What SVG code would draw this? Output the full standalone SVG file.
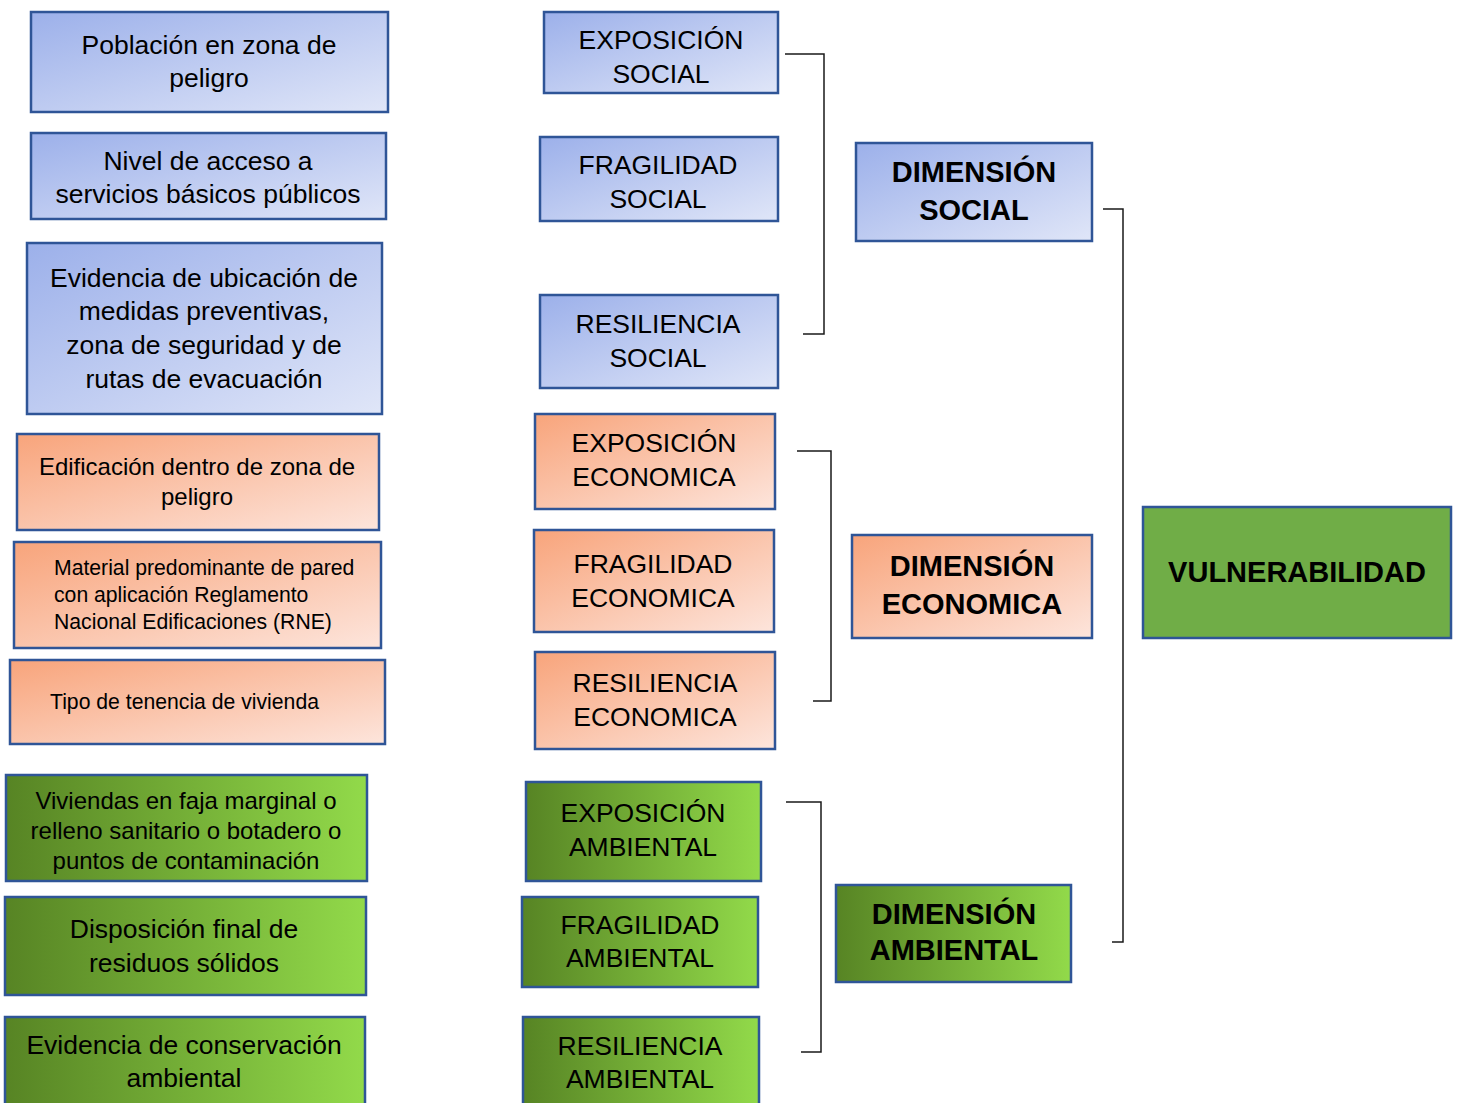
<svg xmlns="http://www.w3.org/2000/svg" width="1459" height="1103" viewBox="0 0 1459 1103">
<defs>
<linearGradient id="gBlue" x1="0" y1="0" x2="1" y2="1">
<stop offset="0" stop-color="#9cb0ea"/>
<stop offset="1" stop-color="#e0e6f8"/>
</linearGradient>
<linearGradient id="gOrange" x1="0" y1="0" x2="1" y2="1">
<stop offset="0" stop-color="#f8a47b"/>
<stop offset="1" stop-color="#fde5dc"/>
</linearGradient>
<linearGradient id="gGreen" x1="0" y1="0" x2="1" y2="0">
<stop offset="0" stop-color="#578424"/>
<stop offset="1" stop-color="#92da4a"/>
</linearGradient>
</defs>
<style>
.b,.o,.g,.v{stroke:#2f5597;stroke-width:2.5}
.b{fill:url(#gBlue)}
.o{fill:url(#gOrange)}
.g{fill:url(#gGreen)}
.v{fill:#70ad47}
text{font-family:"Liberation Sans",Arial,sans-serif;fill:#000;text-anchor:middle}
.t26{font-size:26.5px}
.t24{font-size:24px}
.t21{font-size:21.2px}
.bold{font-size:29px;font-weight:bold}
.l{text-anchor:start}
.con{fill:none;stroke:#1a1a1a;stroke-width:1.5}
</style>
<rect width="1459" height="1103" fill="#fff"/>

<g id="n1"><rect class="b" x="31" y="12" width="357" height="100"/><text class="t26" x="209" y="54">Población en zona de</text><text class="t26" x="209" y="87">peligro</text></g>
<g id="n2"><rect class="b" x="31" y="133" width="355" height="86"/><text class="t26" x="208" y="170">Nivel de acceso a</text><text class="t26" x="208" y="203">servicios básicos públicos</text></g>
<g id="n3"><rect class="b" x="27" y="243" width="355" height="171"/><text class="t26" x="204" y="287">Evidencia de ubicación de</text><text class="t26" x="204" y="320">medidas preventivas,</text><text class="t26" x="204" y="354">zona de seguridad y de</text><text class="t26" x="204" y="388">rutas de evacuación</text></g>
<g id="n4"><rect class="o" x="17" y="434" width="362" height="96"/><text class="t24" x="197" y="475">Edificación dentro de zona de</text><text class="t24" x="197" y="505">peligro</text></g>
<g id="n5"><rect class="o" x="14" y="542" width="367" height="106"/><text class="t21 l" x="54" y="575">Material predominante de pared</text><text class="t21 l" x="54" y="602">con aplicación Reglamento</text><text class="t21 l" x="54" y="629">Nacional Edificaciones (RNE)</text></g>
<g id="n6"><rect class="o" x="10" y="660" width="375" height="84"/><text class="t21 l" x="50" y="709">Tipo de tenencia de vivienda</text></g>
<g id="n7"><rect class="g" x="6" y="775" width="361" height="106"/><text class="t24" x="186" y="809">Viviendas en faja marginal o</text><text class="t24" x="186" y="839">relleno sanitario o botadero o</text><text class="t24" x="186" y="869">puntos de contaminación</text></g>
<g id="n8"><rect class="g" x="5" y="897" width="361" height="98"/><text class="t26" x="184" y="938">Disposición final de</text><text class="t26" x="184" y="972">residuos sólidos</text></g>
<g id="n9"><rect class="g" x="5" y="1017" width="360" height="100"/><text class="t26" x="184" y="1054">Evidencia de conservación</text><text class="t26" x="184" y="1087">ambiental</text></g>

<g id="m1"><rect class="b" x="544" y="12" width="234" height="81"/><text class="t26" x="661" y="49">EXPOSICIÓN</text><text class="t26" x="661" y="83">SOCIAL</text></g>
<g id="m2"><rect class="b" x="540" y="137" width="238" height="84"/><text class="t26" x="658" y="174">FRAGILIDAD</text><text class="t26" x="658" y="208">SOCIAL</text></g>
<g id="m3"><rect class="b" x="540" y="295" width="238" height="93"/><text class="t26" x="658" y="333">RESILIENCIA</text><text class="t26" x="658" y="367">SOCIAL</text></g>
<g id="m4"><rect class="o" x="535" y="414" width="240" height="95"/><text class="t26" x="654" y="452">EXPOSICIÓN</text><text class="t26" x="654" y="486">ECONOMICA</text></g>
<g id="m5"><rect class="o" x="534" y="530" width="240" height="102"/><text class="t26" x="653" y="573">FRAGILIDAD</text><text class="t26" x="653" y="607">ECONOMICA</text></g>
<g id="m6"><rect class="o" x="535" y="652" width="240" height="97"/><text class="t26" x="655" y="692">RESILIENCIA</text><text class="t26" x="655" y="726">ECONOMICA</text></g>
<g id="m7"><rect class="g" x="526" y="782" width="235" height="99"/><text class="t26" x="643" y="822">EXPOSICIÓN</text><text class="t26" x="643" y="856">AMBIENTAL</text></g>
<g id="m8"><rect class="g" x="522" y="897" width="236" height="90"/><text class="t26" x="640" y="934">FRAGILIDAD</text><text class="t26" x="640" y="967">AMBIENTAL</text></g>
<g id="m9"><rect class="g" x="523" y="1017" width="236" height="100"/><text class="t26" x="640" y="1055">RESILIENCIA</text><text class="t26" x="640" y="1088">AMBIENTAL</text></g>

<g id="d1"><rect class="b" x="856" y="143" width="236" height="98"/><text class="bold" x="974" y="182">DIMENSIÓN</text><text class="bold" x="974" y="220">SOCIAL</text></g>
<g id="d2"><rect class="o" x="852" y="535" width="240" height="103"/><text class="bold" x="972" y="576">DIMENSIÓN</text><text class="bold" x="972" y="614">ECONOMICA</text></g>
<g id="d3"><rect class="g" x="836" y="885" width="235" height="97"/><text class="bold" x="954" y="924">DIMENSIÓN</text><text class="bold" x="954" y="960">AMBIENTAL</text></g>
<g id="vul"><rect class="v" x="1143" y="507" width="308" height="131"/><text class="bold" x="1297" y="582">VULNERABILIDAD</text></g>

<g id="connectors">
<polyline class="con" points="785,54 824,54 824,334 803,334"/>
<polyline class="con" points="797,451 831,451 831,701 813,701"/>
<polyline class="con" points="786,802 821,802 821,1052 801,1052"/>
<polyline class="con" points="1103,209 1123,209 1123,942 1112,942"/>
</g>
</svg>
